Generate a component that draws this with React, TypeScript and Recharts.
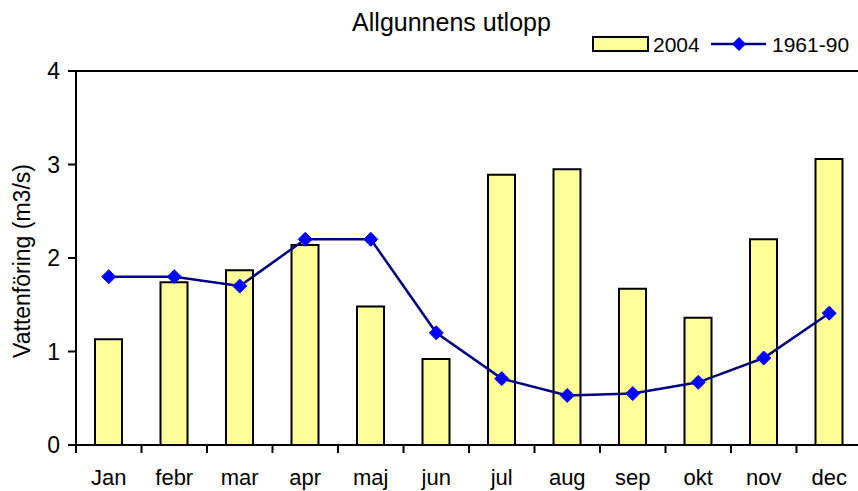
import React from 'react';
import { ComposedChart, Bar, Line, XAxis, YAxis, ReferenceLine, Label } from 'recharts';

const months = ['Jan', 'febr', 'mar', 'apr', 'maj', 'jun', 'jul', 'aug', 'sep', 'okt', 'nov', 'dec'];
const flow2004 = [1.13, 1.74, 1.87, 2.14, 1.48, 0.92, 2.89, 2.95, 1.67, 1.36, 2.2, 3.06];
const flow196190 = [1.8, 1.8, 1.7, 2.2, 2.2, 1.2, 0.71, 0.53, 0.55, 0.67, 0.93, 1.41];
const yTicks = [0, 1, 2, 3, 4];

const data = months.map((m, i) => ({ month: m, y2004: flow2004[i], y6190: flow196190[i] }));

const FONT = '"Liberation Sans", Arial, sans-serif';
const CHART_W = 870;
const CHART_H = 510;
const MARGIN = { top: 71, right: 8, left: 0, bottom: 0 };
const Y_W = 76;
const X_H = 65;
const BAND = (CHART_W - MARGIN.left - MARGIN.right - Y_W) / months.length;

const XTick = (props: any) => {
  const { x, y, payload } = props;
  const edge = x - BAND / 2;
  return (
    <g>
      <line x1={edge} y1={y} x2={edge} y2={y + 8} stroke="#000" strokeWidth={2} />
      <text x={x} y={y + 40} textAnchor="middle" fontFamily={FONT} fontSize={22} fill="#000">
        {payload.value}
      </text>
    </g>
  );
};

const Diamond = (props: any) => {
  const { cx, cy, index } = props;
  if (cx == null || cy == null) return <g key={`d-${index}`} />;
  const r = 7;
  return (
    <polygon
      key={`d-${index}`}
      points={`${cx},${cy - r} ${cx + r},${cy} ${cx},${cy + r} ${cx - r},${cy}`}
      fill="#0000FF"
      stroke="#0000FF"
      strokeWidth={1}
    />
  );
};

const LegendBox = () => (
  <svg
    width={270}
    height={30}
    style={{ position: 'absolute', top: 30, left: 590, display: 'block', overflow: 'visible' }}
  >
    <rect x={3} y={7} width={55} height={14} fill="#FFFF99" stroke="#000" strokeWidth={2} />
    <text x={63} y={22} fontFamily={FONT} fontSize={21} fill="#000">2004</text>
    <line x1={121} y1={14} x2={176} y2={14} stroke="#000080" strokeWidth={2.5} />
    <polygon points="149,7 156,14 149,21 142,14" fill="#0000FF" />
    <text x={182} y={22} fontFamily={FONT} fontSize={21} fill="#000">1961-90</text>
  </svg>
);

const YLabel = (props: any) => {
  const vb = props.viewBox || { x: 0, y: 71, width: 76, height: 374 };
  const cx = vb.x + 22;
  const cy = vb.y + vb.height / 2 + 3;
  return (
    <text
      x={cx}
      y={cy}
      transform={`rotate(-90 ${cx} ${cy})`}
      textAnchor="middle"
      dominantBaseline="central"
      fontFamily={FONT}
      fontSize={23}
      fill="#000"
    >
      Vattenföring (m3/s)
    </text>
  );
};

export default function App() {
  return (
    <div
      style={{
        position: 'absolute',
        left: 0,
        top: 0,
        width: 858,
        height: 491,
        overflow: 'hidden',
        background: '#fff',
        fontFamily: FONT,
      }}
    >
      <div
        style={{
          position: 'absolute',
          left: 0,
          width: 903,
          top: 10,
          textAlign: 'center',
          fontSize: 25,
          lineHeight: '25px',
          color: '#000',
          fontFamily: FONT,
        }}
      >
        Allgunnens utlopp
      </div>
      <ComposedChart width={CHART_W} height={CHART_H} data={data} margin={MARGIN}>
        <XAxis
          dataKey="month"
          height={X_H}
          axisLine={{ stroke: '#000', strokeWidth: 2 }}
          tickLine={false}
          tickSize={0}
          tickMargin={0}
          tick={<XTick />}
          interval={0}
        />
        <YAxis
          width={Y_W}
          domain={[0, 4]}
          ticks={yTicks}
          interval={0}
          axisLine={{ stroke: '#000', strokeWidth: 2 }}
          tickLine={{ stroke: '#000', strokeWidth: 2 }}
          tickSize={8}
          tickMargin={8}
          tick={{ fill: '#000', fontSize: 23, fontFamily: FONT }}
        >
          <Label content={<YLabel />} position="insideLeft" />
        </YAxis>
        <ReferenceLine y={4} stroke="#000" strokeWidth={2} />
        <Bar dataKey="y2004" name="2004" fill="#FFFF99" stroke="#000" strokeWidth={2} barSize={27} isAnimationActive={false} />
        <Line
          dataKey="y6190"
          name="1961-90"
          type="linear"
          stroke="#000080"
          strokeWidth={2.5}
          dot={<Diamond />}
          activeDot={false}
          isAnimationActive={false}
        />
      </ComposedChart>
      <LegendBox />
    </div>
  );
}
